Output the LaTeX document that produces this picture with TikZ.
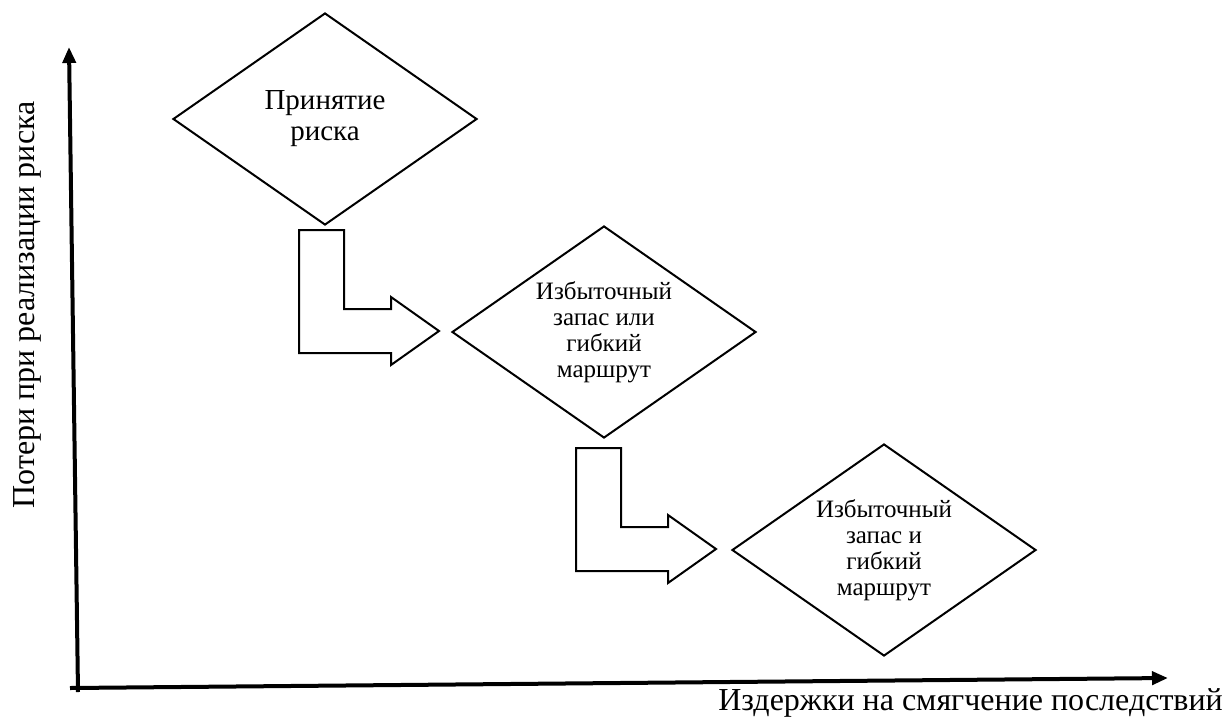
\documentclass[tikz,border=0pt]{standalone}
\usepackage{fontspec}
\setmainfont{Liberation Serif}
\usetikzlibrary{shapes.geometric,arrows.meta,calc}
\tikzset{
  dia/.style={shape=diamond, draw, line width=2pt, minimum width=304pt, minimum height=212pt,
    inner sep=0pt, shape aspect=1.43, align=center},
  bigtxt/.style={font=\fontsize{29}{31}\selectfont},
  smalltxt/.style={font=\fontsize{25}{26}\selectfont},
  axis/.style={line width=4pt, -{Triangle[length=16pt,width=13pt]}},
  blockarrow/.style={draw, line width=2pt, line join=miter},
  axlabel/.style={font=\fontsize{32}{34}\selectfont, inner sep=0pt}
}
\begin{document}
\begin{tikzpicture}[x=1pt,y=-1pt]
\useasboundingbox (0,0) rectangle (1225,718);
% diamonds
\node[dia,bigtxt] (d1) at (325,119) {Принятие\\риска};
\node[dia,smalltxt] (d2) at (604,332) {Избыточный\\запас или\\гибкий\\маршрут};
\node[dia,smalltxt] (d3) at (884,550) {Избыточный\\запас и\\гибкий\\маршрут};
% block arrows
\coordinate (t1) at ($(d2.west)+(-12,-1)$);
\coordinate (t2) at ($(d3.west)+(-15,-1)$);
\foreach \t in {t1,t2}{
  \draw[blockarrow, shift={(\t)}] (-140,-101) -- (-95,-101) -- (-95,-22) -- (-48,-22)
    -- (-48,-34) -- (0,0) -- (-48,34) -- (-48,22) -- (-140,22) -- cycle;
}
% axes
\coordinate (yb) at (78,692);
\coordinate (yt) at (69,47);
\coordinate (xl) at (70,688);
\coordinate (xr) at (1168,678);
\draw[axis] (yb) -- (yt);
\draw[axis] (xl) -- (xr);
% axis labels
\node[axlabel, rotate=90] (ylab) at (27,305) {Потери при реализации риска};
\node[axlabel, anchor=base east] (xlab) at (1223,710) {Издержки на смягчение последствий};
\end{tikzpicture}
\end{document}
